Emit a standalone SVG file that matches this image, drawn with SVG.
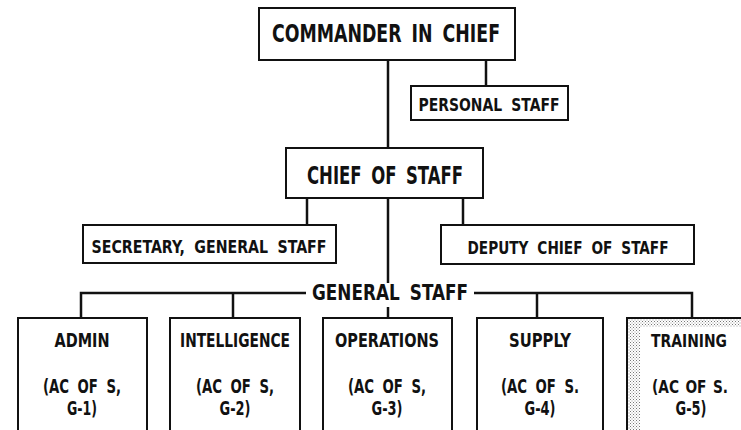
<svg xmlns="http://www.w3.org/2000/svg" width="741" height="430" viewBox="0 0 741 430">
<style>
text{font-family:"Liberation Sans Narrow","DejaVu Sans",sans-serif;font-stretch:condensed;font-weight:bold;fill:#111;text-anchor:middle;word-spacing:5px}
.box{fill:#fff;stroke:#111;stroke-width:2}
.ln{stroke:#111;stroke-width:2.5;fill:none}
.big{font-size:24px}
.mid{font-size:18px}
.gs{font-size:22px}
.sm{font-size:19px}
.edge{font-size:18px;word-spacing:2px}
</style>
<defs>
<pattern id="dots" width="3" height="3" patternUnits="userSpaceOnUse">
<rect width="3" height="3" fill="#fff"/>
<rect x="0" y="0" width="1" height="1" fill="#777"/>
<rect x="1.5" y="1.5" width="1" height="1" fill="#999"/>
</pattern>
</defs>
<g id="connectors">
<line class="ln" x1="388" y1="60" x2="388" y2="148"/>
<line class="ln" x1="486" y1="60" x2="486" y2="86"/>
<line class="ln" x1="388" y1="198" x2="388" y2="283"/>
<line class="ln" x1="388" y1="307" x2="388" y2="318"/>
<line class="ln" x1="307" y1="198" x2="307" y2="225"/>
<line class="ln" x1="463" y1="198" x2="463" y2="225"/>
<polyline class="ln" points="81,318 81,293 306,293"/>
<line class="ln" x1="233" y1="293" x2="233" y2="318"/>
<polyline class="ln" points="474,293 692,293 692,318"/>
<line class="ln" x1="537" y1="293" x2="537" y2="318"/>
</g>
<g id="commander">
<rect class="box" x="259" y="8" width="256" height="52"/>
<text class="big" x="386" y="42" textLength="228" lengthAdjust="spacingAndGlyphs">COMMANDER IN CHIEF</text>
</g>
<g id="personal-staff">
<rect class="box" x="411" y="86" width="157" height="34"/>
<text class="mid" x="489" y="111" textLength="141" lengthAdjust="spacingAndGlyphs">PERSONAL STAFF</text>
</g>
<g id="chief-of-staff">
<rect class="box" x="286" y="148" width="197" height="50"/>
<text class="big" x="385" y="184" textLength="156" lengthAdjust="spacingAndGlyphs">CHIEF OF STAFF</text>
</g>
<g id="secretary">
<rect class="box" x="83" y="225" width="253" height="38"/>
<text class="mid" x="209" y="253" textLength="235" lengthAdjust="spacingAndGlyphs">SECRETARY, GENERAL STAFF</text>
</g>
<g id="deputy">
<rect class="box" x="441" y="225" width="253" height="39"/>
<text class="mid" x="568" y="254" textLength="201" lengthAdjust="spacingAndGlyphs">DEPUTY CHIEF OF STAFF</text>
</g>
<g id="general-staff-label">
<text class="gs" x="390" y="300" textLength="156" lengthAdjust="spacingAndGlyphs">GENERAL STAFF</text>
</g>
<g id="admin">
<path class="box" d="M18,430 V318 H147 V430"/>
<text class="sm" x="82" y="347" textLength="55" lengthAdjust="spacingAndGlyphs">ADMIN</text>
<text class="sm" x="82" y="393" textLength="78" lengthAdjust="spacingAndGlyphs">(AC OF S,</text>
<text class="sm" x="82" y="415" textLength="30" lengthAdjust="spacingAndGlyphs">G-1)</text>
</g>
<g id="intelligence">
<path class="box" d="M170,430 V318 H300 V430"/>
<text class="sm" x="235" y="347" textLength="110" lengthAdjust="spacingAndGlyphs">INTELLIGENCE</text>
<text class="sm" x="235" y="393" textLength="78" lengthAdjust="spacingAndGlyphs">(AC OF S,</text>
<text class="sm" x="235" y="415" textLength="31" lengthAdjust="spacingAndGlyphs">G-2)</text>
</g>
<g id="operations">
<path class="box" d="M323,430 V318 H452 V430"/>
<text class="sm" x="387" y="347" textLength="104" lengthAdjust="spacingAndGlyphs">OPERATIONS</text>
<text class="sm" x="387" y="393" textLength="78" lengthAdjust="spacingAndGlyphs">(AC OF S,</text>
<text class="sm" x="387" y="415" textLength="31" lengthAdjust="spacingAndGlyphs">G-3)</text>
</g>
<g id="supply">
<path class="box" d="M477,430 V318 H603 V430"/>
<text class="sm" x="540" y="347" textLength="62" lengthAdjust="spacingAndGlyphs">SUPPLY</text>
<text class="sm" x="540" y="393" textLength="78" lengthAdjust="spacingAndGlyphs">(AC OF S.</text>
<text class="sm" x="540" y="415" textLength="31" lengthAdjust="spacingAndGlyphs">G-4)</text>
</g>
<g id="training">
<rect x="627" y="318" width="114" height="112" fill="#fff"/>
<rect x="628" y="319" width="113" height="8" fill="url(#dots)"/>
<rect x="628" y="319" width="12" height="111" fill="url(#dots)"/>
<path d="M741,318 H627 V430" fill="none" stroke="#111" stroke-width="2"/>
<text class="edge" x="689" y="347" textLength="76" lengthAdjust="spacingAndGlyphs">TRAINING</text>
<text class="edge" x="690" y="393" textLength="76" lengthAdjust="spacingAndGlyphs">(AC OF S.</text>
<text class="sm" x="691" y="415" textLength="31" lengthAdjust="spacingAndGlyphs">G-5)</text>
</g>
</svg>
